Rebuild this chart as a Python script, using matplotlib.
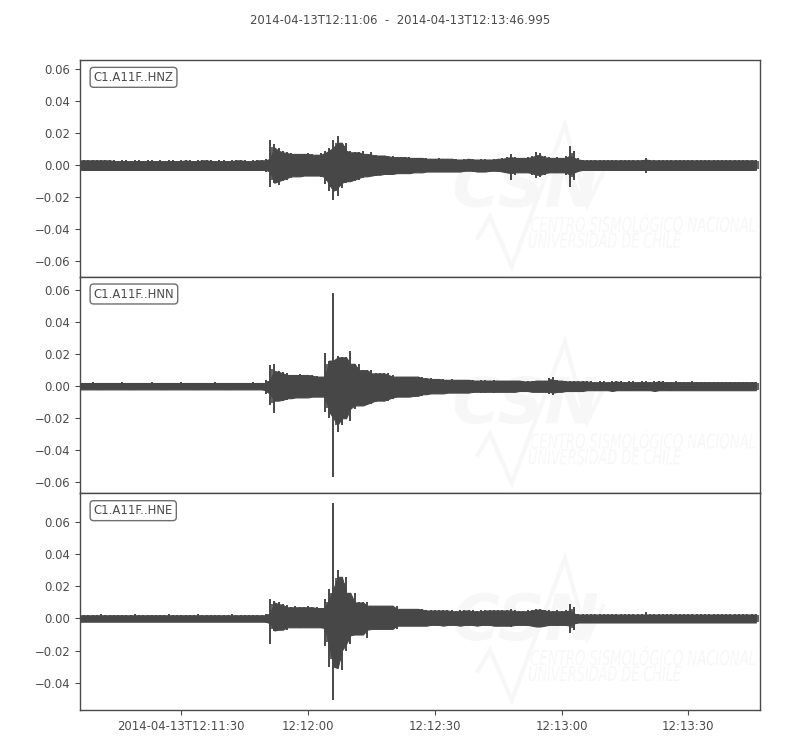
import numpy as np
import matplotlib
matplotlib.use("Agg")
import matplotlib.pyplot as plt
from matplotlib.textpath import TextPath
from matplotlib.patches import PathPatch
from matplotlib.font_manager import FontProperties
from matplotlib.transforms import Affine2D

# ---------------- data ----------------
title_text = "2014-04-13T12:11:06  -  2014-04-13T12:13:46.995"
trace_ids = ["C1.A11F..HNZ", "C1.A11F..HNN", "C1.A11F..HNE"]
duration_s = 160.995
tick_seconds = [24, 54, 84, 114, 144]
tick_labels = ["2014-04-13T12:11:30", "12:12:00", "12:12:30", "12:13:00", "12:13:30"]

# per-second max / min of each trace, in units of 1e-3 (t = 0 .. 160 s after 12:11:06)
hnz_max = [3, 3, 3.5, 3, 3, 3.5, 3, 3, 3, 2.5,
           3, 3, 2.5, 3, 3, 2.5, 3, 3, 2.5, 3,
           2.5, 3, 3, 2.5, 3, 3, 3, 2.5, 3, 3,
           3, 3, 2.5, 3, 3, 2.5, 3, 3, 3, 3,
           2.5, 3, 3, 3,
           4, 16, 13, 11, 9, 8, 7.5, 7, 7, 7, 7.5, 7, 6.5, 7.5, 9, 11, 16, 18, 14, 14,
           9, 8, 8, 9, 7, 8, 6.5, 6, 6, 6, 5.5, 5, 5, 5, 5, 4.5, 4.5, 4.5,
           4.5, 4, 4, 4.5, 4, 4, 4, 4, 3.5, 4, 4, 4, 3.5, 4, 4, 3.5, 4, 4,
           4.5, 5, 7, 5, 4.5, 4.5, 5, 6, 8, 7.5, 6, 5, 4.5, 5, 4.5, 6, 12, 9, 4.5,
           3.5, 3, 3.5, 3, 3, 3.5, 3, 3, 3.5, 3,
           3, 3, 3.5, 3, 3.5, 4.5, 3.5, 3, 3, 3,
           3.5, 3, 3, 3.5, 3, 3, 3, 3, 3.5, 3,
           3, 3, 3, 3.5, 3, 3, 3, 3, 3, 3,
           3, 3]
hnz_min = [-3, -3, -3.5, -3, -3, -3, -3.5, -3, -3, -3,
           -3, -3, -3, -3.5, -3, -3, -3, -3, -3, -3.5,
           -3, -3, -3, -3, -3, -3.5, -3, -3, -3, -3,
           -3, -3.5, -3, -3, -3, -3, -3, -3, -3.5, -3,
           -3, -3, -3, -3,
           -4, -13.5, -11, -12.5, -10, -9, -8, -7, -7, -7, -6.5, -7, -6.5, -7.5, -12, -16, -22, -19, -14, -11,
           -10, -10, -9, -8, -7, -7, -6.5, -6, -6, -5.5, -5.5, -5.5, -5, -5, -5, -5, -4.5, -4.5,
           -4.5, -4, -4, -4, -4.5, -4, -4, -4, -4, -4, -3.5, -4, -4, -4, -4, -4, -3.5, -4,
           -4.5, -5, -9, -6, -4.5, -4.5, -5, -6, -8, -7.5, -6, -5, -4.5, -5, -4.5, -6, -13.5, -9, -4.5,
           -3.5, -3, -3, -3, -3.5, -3, -3, -3, -3, -3.5,
           -3, -3, -3, -3.5, -3, -5, -3.5, -3, -3, -3,
           -3, -3.5, -3, -3, -3, -3, -3.5, -3, -3, -3,
           -3, -3, -3, -3.5, -3, -3, -3, -3, -3, -3,
           -3, -3]

hnn_max = [2, 2, 2, 2.5, 2, 2, 2, 2, 2, 2,
           2.5, 2, 2, 2, 2, 2, 2, 2.5, 2, 2,
           2, 2, 2, 2, 2.5, 2, 2, 2, 2, 2,
           2, 2, 2.5, 2, 2, 2, 2, 2, 2, 2,
           2, 2.5, 2, 2,
           4, 13, 14, 9.5, 9, 8, 7, 7, 7.5, 7, 7, 7, 6.5, 6, 21, 16, 58, 19, 18, 18,
           22, 14, 14, 10, 10, 10, 8, 8, 8, 8, 7, 6, 6, 6, 6, 6, 6, 6,
           5, 5, 4.5, 4.5, 4.5, 4, 4.5, 4, 4, 4, 4, 4, 3.5, 4, 4, 3.5, 4, 3.5,
           3.5, 3.5, 3.5, 3.5, 3.5, 3.5, 3, 3.5, 3.5, 3.5, 3.5, 5, 6, 4, 3.5, 3.5, 3, 3, 3,
           3, 3, 3, 2.5, 3, 3, 2.5, 3, 3, 3,
           2.5, 3, 3, 2.5, 3, 3, 2.5, 3, 3, 3,
           2.5, 2.5, 3, 2.5, 2.5, 2.5, 3, 2.5, 2.5, 2.5,
           2.5, 2.5, 2.5, 2.5, 2.5, 2.5, 2.5, 2.5, 2.5, 2.5,
           2.5, 2.5]
hnn_min = [-2, -2, -2, -2, -2.5, -2, -2, -2, -2, -2,
           -2, -2, -2.5, -2, -2, -2, -2, -2, -2, -2,
           -2.5, -2, -2, -2, -2, -2, -2, -2.5, -2, -2,
           -2, -2, -2, -2, -2, -2.5, -2, -2, -2, -2,
           -2, -2, -2, -2.5,
           -5, -12, -17, -9, -9, -8.5, -7.5, -7.5, -7, -7.5, -7, -7, -6.5, -6.5, -16, -20, -56.5, -28.5, -24, -20,
           -22, -14, -12, -12, -12, -11, -10, -9, -9, -9, -8, -7, -6.5, -6.5, -6.5, -6.5, -6, -6,
           -5, -5, -4.5, -4.5, -4.5, -4.5, -4, -4, -4, -4, -4, -4, -3.5, -4, -4, -3.5, -4, -3.5,
           -3.5, -3.5, -3.5, -3.5, -3.5, -3, -3.5, -3.5, -3.5, -3.5, -3.5, -5, -5.5, -4, -3.5, -3.5, -3, -3, -3,
           -3, -3, -2.5, -3, -3, -2.5, -3, -3, -3, -2.5,
           -3, -3, -2.5, -3, -3, -2.5, -3, -3, -3, -2.5,
           -2.5, -3, -2.5, -2.5, -2.5, -3, -2.5, -2.5, -2.5, -2.5,
           -2.5, -2.5, -2.5, -2.5, -2.5, -2.5, -2.5, -2.5, -2.5, -2.5,
           -2.5, -2.5]

hne_max = [2, 2, 2, 2, 2, 2.5, 2, 2, 2, 2,
           2, 2, 2, 2.5, 2, 2, 2, 2, 2, 2,
           2, 2.5, 2, 2, 2, 2, 2, 2, 2.5, 2,
           2, 2, 2, 2, 2, 2, 2.5, 2, 2, 2,
           2, 2, 2, 2,
           3, 12, 11, 10, 9, 8.5, 7, 7.5, 7, 7, 7.5, 7, 7, 6.5, 12, 18.5, 72, 30, 26, 26,
           16, 16, 10, 10, 10, 8, 8, 8, 8, 8, 8, 8, 6, 6, 6, 6, 6, 6,
           5.5, 5, 5, 5, 5, 5, 5, 4.5, 5, 5, 5, 5, 4.5, 5, 5, 5, 5, 5,
           5, 5, 6, 5, 4.5, 4.5, 5, 5.5, 6, 6, 5.5, 5, 4.5, 5, 4.5, 5, 9, 7, 3,
           2.5, 2.5, 2.5, 2.5, 2.5, 2.5, 2.5, 2.5, 2.5, 2.5,
           2.5, 2.5, 2.5, 2.5, 2.5, 4, 2.5, 2.5, 2.5, 2.5,
           2.5, 2.5, 2.5, 2.5, 2.5, 2.5, 2.5, 2.5, 2.5, 2.5,
           2.5, 2.5, 2.5, 2.5, 2.5, 2.5, 2.5, 2.5, 2.5, 2.5,
           2.5, 2.5]
hne_min = [-2, -2, -2, -2, -2, -2, -2.5, -2, -2, -2,
           -2, -2, -2, -2, -2.5, -2, -2, -2, -2, -2,
           -2, -2, -2, -2.5, -2, -2, -2, -2, -2, -2,
           -2, -2.5, -2, -2, -2, -2, -2, -2, -2, -2.5,
           -2, -2, -2, -2,
           -3, -16, -8, -7.5, -7, -7, -5.5, -5.5, -6, -5.5, -5.5, -5.5, -5.5, -6, -17, -30, -51, -31, -32, -20,
           -16, -10.5, -10, -10, -12.5, -7, -6.5, -6.5, -6.5, -6.5, -6.5, -6.5, -4.5, -4.5, -4.5, -4.5, -4.5, -4.5,
           -4.5, -4.5, -4, -4.5, -4.5, -4.5, -4, -4.5, -4.5, -4.5, -4, -4.5, -4.5, -4.5, -4, -4.5, -4.5, -4.5,
           -4.5, -4.5, -5.5, -4.5, -4, -4, -4.5, -5, -5, -5, -5, -4.5, -4, -4.5, -4, -4.5, -9, -7, -3,
           -2.5, -2.5, -2.5, -2.5, -2.5, -2.5, -2.5, -2.5, -2.5, -2.5,
           -2.5, -2.5, -2.5, -2.5, -2.5, -3, -2.5, -2.5, -2.5, -2.5,
           -2.5, -2.5, -2.5, -2.5, -2.5, -2.5, -2.5, -2.5, -2.5, -2.5,
           -2.5, -2.5, -2.5, -2.5, -2.5, -2.5, -2.5, -2.5, -2.5, -2.5,
           -2.5, -2.5]

amp_unit = 1e-3
traces_max = [hnz_max, hnn_max, hne_max]
traces_min = [hnz_min, hnn_min, hne_min]

# ---------------- style ----------------
ink = "#474747"
txt = "#4a4a4a"
wm = "#f7f7f7"

fig = plt.figure(figsize=(8.0, 7.5), dpi=100)
fig.subplots_adjust(left=0.10, right=0.95, top=0.92, bottom=40 / 750, hspace=0)
axes = fig.subplots(3, 1, sharex=True)

ranges = [(max(a) - min(b)) * amp_unit for a, b in zip(traces_max, traces_min)]
max_range = max(ranges)


def add_path_text(ax, s, x0, y0, width, cap_h, weight="normal"):
    prop = FontProperties(family="DejaVu Sans", style="italic", weight=weight)
    tp = TextPath((0, 0), s, size=1, prop=prop)
    ext = tp.get_extents()
    sx = width / ext.width
    sy = cap_h / 0.73
    tr = Affine2D().translate(-ext.x0, 0).scale(sx, sy).translate(x0, y0) + ax.transAxes
    ax.add_patch(PathPatch(tp, transform=tr, facecolor=wm, edgecolor="none", zorder=0.5))


for i, ax in enumerate(axes):
    upper = np.asarray(traces_max[i], dtype=float) * amp_unit
    lower = np.asarray(traces_min[i], dtype=float) * amp_unit
    t = np.arange(len(upper), dtype=float)

    # watermark logo
    add_path_text(ax, "CSN", 0.551, 0.323, 0.21, 0.215, weight="bold")
    add_path_text(ax, "CENTRO SISMOLÓGICO NACIONAL", 0.663, 0.207, 0.33, 0.069)
    add_path_text(ax, "UNIVERSIDAD DE CHILE", 0.660, 0.134, 0.224, 0.069)
    zx = [0.585, 0.603, 0.635, 0.713, 0.746, 0.769]
    zy = [0.180, 0.276, 0.046, 0.700, 0.332, 0.479]
    ax.plot(zx, zy, transform=ax.transAxes, color=wm, lw=3, zorder=0.5,
            solid_joinstyle="miter")

    # waveform: a filled body (neighbour-minimum envelope) plus thin per-second min/max strokes
    up_pad = np.concatenate([[upper[0]], upper, [upper[-1]]])
    lo_pad = np.concatenate([[lower[0]], lower, [lower[-1]]])
    body_u = np.minimum(np.minimum(up_pad[:-2], up_pad[1:-1]), up_pad[2:])
    body_l = np.maximum(np.maximum(lo_pad[:-2], lo_pad[1:-1]), lo_pad[2:])
    ax.fill_between(t, body_l, body_u, color=ink, lw=0.8, zorder=2)
    ax.vlines(t, lower, upper, color=ink, lw=1.4, zorder=2)
    ax.vlines(t + 0.5, np.maximum(lower, lo_pad[2:]) * 0.85,
              np.minimum(upper, up_pad[2:]) * 0.85, color=ink, lw=1.2, zorder=2)

    mid = (upper.max() + lower.min()) / 2.0
    ax.set_ylim(mid - max_range * 0.55, mid + max_range * 0.55)
    ax.set_xlim(0, duration_s)

    ax.text(0.02, 0.95, trace_ids[i], transform=ax.transAxes, ha="left", va="top",
            fontsize="small", color=txt, zorder=5,
            bbox=dict(boxstyle="round", fc="w", ec=txt, alpha=0.8))

    for sp in ax.spines.values():
        sp.set_color(txt)
        sp.set_linewidth(1.0)
    ax.tick_params(axis="y", direction="out", colors=txt, labelsize="small", labelcolor=txt)
    ax.tick_params(axis="x", direction="out", colors=txt, labelsize="small", labelcolor=txt)
    if i < 2:
        ax.tick_params(axis="x", length=0, labelbottom=False)

axes[-1].set_xticks(tick_seconds)
axes[-1].set_xticklabels(tick_labels)

fig.text(0.5, 1 - 20 / 750, title_text, ha="center", va="center", fontsize="small", color=txt)

fig.savefig("out.png", dpi=100)
